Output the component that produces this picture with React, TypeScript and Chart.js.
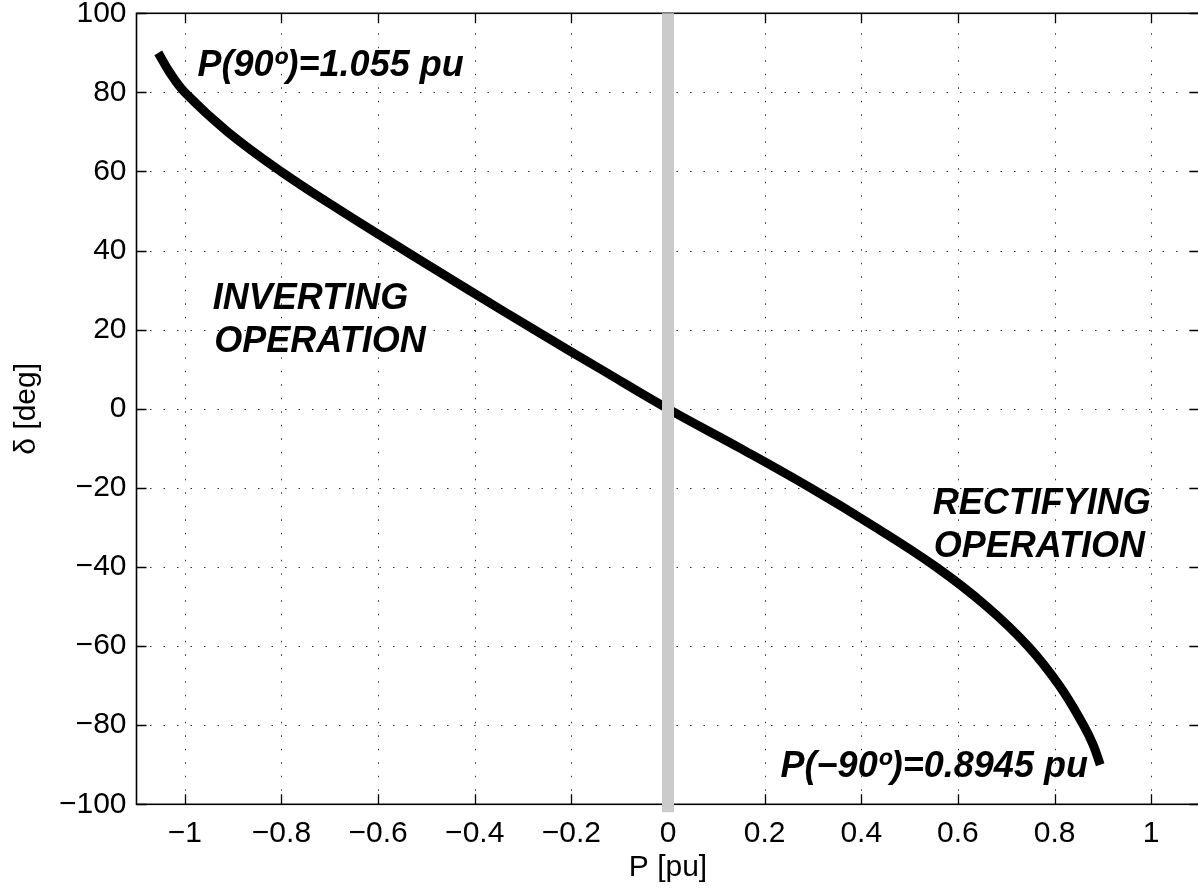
import React, { useEffect, useRef } from "react";
import { Chart, registerables } from "chart.js";

Chart.register(...registerables);

// Load angle δ (deg) versus active power P (pu) of the converter
const deltaDeg = [90, 85, 80, 70, 60, 50, 40, 30, 20, 10, 0, -10, -20, -30, -40, -50, -60, -70, -80, -85, -90];
const powerPu = [-1.055, -1.031, -1.0, -0.911, -0.801, -0.676, -0.545, -0.412, -0.277, -0.139, 0, 0.15, 0.295, 0.43, 0.555, 0.66, 0.745, 0.81, 0.86, 0.88, 0.8945];

// Grey reference line at P = 0
const zeroLineP = [0, 0];
const zeroLineDelta = [-102, 100];

// Axis ticks
const xTickValues = [-1, -0.8, -0.6, -0.4, -0.2, 0, 0.2, 0.4, 0.6, 0.8, 1];
const yTickValues = [-100, -80, -60, -40, -20, 0, 20, 40, 60, 80, 100];

// Text notes, anchored at (P, δ) of the left end of their baseline
const noteTexts = ["P(90º)=1.055 pu", "INVERTING", "OPERATION", "RECTIFYING", "OPERATION", "P(\u221290º)=0.8945 pu"];
const noteP = [-0.974, -0.942, -0.939, 0.548, 0.55, 0.233];
const noteDelta = [84.1, 25.3, 14.4, -26.7, -37.5, -93.1];

const FONT = "'Liberation Sans', Arial, Helvetica, sans-serif";

const fmt = (v: number) => {
  const r = Math.round(v * 10) / 10;
  if (r === 0) return "0";
  return (r < 0 ? "\u2212" : "") + String(Math.abs(r));
};

const framePlugin = {
  id: "matlabFrame",
  beforeDatasetsDraw(chart: any) {
    const { ctx, chartArea: a, scales } = chart;
    const xs = scales.x;
    const ys = scales.y;
    ctx.save();
    // dotted grid
    ctx.strokeStyle = "#333";
    ctx.lineWidth = 1;
    ctx.setLineDash([1.5, 12]);
    xTickValues.forEach((v) => {
      const px = Math.round(xs.getPixelForValue(v)) + 0.5;
      ctx.beginPath();
      ctx.moveTo(px, a.bottom);
      ctx.lineTo(px, a.top);
      ctx.stroke();
    });
    yTickValues.forEach((v) => {
      const py = Math.round(ys.getPixelForValue(v)) + 0.5;
      ctx.beginPath();
      ctx.moveTo(a.left, py);
      ctx.lineTo(a.right, py);
      ctx.stroke();
    });
    ctx.setLineDash([]);
    // box
    ctx.strokeStyle = "#000";
    ctx.lineWidth = 1.6;
    ctx.strokeRect(a.left, a.top, a.right - a.left, a.bottom - a.top);
    // inward tick marks on all four sides
    const tl = 10;
    ctx.lineWidth = 1.3;
    xTickValues.forEach((v) => {
      const px = Math.round(xs.getPixelForValue(v)) + 0.5;
      ctx.beginPath();
      ctx.moveTo(px, a.bottom);
      ctx.lineTo(px, a.bottom - tl);
      ctx.moveTo(px, a.top);
      ctx.lineTo(px, a.top + tl);
      ctx.stroke();
    });
    yTickValues.forEach((v) => {
      const py = Math.round(ys.getPixelForValue(v)) + 0.5;
      ctx.beginPath();
      ctx.moveTo(a.left, py);
      ctx.lineTo(a.left + tl, py);
      ctx.moveTo(a.right, py);
      ctx.lineTo(a.right - tl, py);
      ctx.stroke();
    });
    ctx.restore();
  },
  afterDatasetsDraw(chart: any) {
    const { ctx, scales } = chart;
    ctx.save();
    ctx.fillStyle = "#000";
    ctx.textAlign = "left";
    ctx.textBaseline = "alphabetic";
    ctx.font = `italic bold 36px ${FONT}`;
    noteTexts.forEach((t, i) => {
      ctx.fillText(t, scales.x.getPixelForValue(noteP[i]), scales.y.getPixelForValue(noteDelta[i]));
    });
    ctx.restore();
  },
};

export default function App() {
  const canvasRef = useRef<HTMLCanvasElement | null>(null);

  useEffect(() => {
    const canvas = canvasRef.current;
    if (!canvas) return;
    Chart.defaults.font.family = FONT;

    const chart = new Chart(canvas, {
      type: "scatter",
      data: {
        datasets: [
          {
            label: "P = 0",
            data: zeroLineP.map((p, i) => ({ x: p, y: zeroLineDelta[i] })),
            showLine: true,
            borderColor: "#cbcbcb",
            borderWidth: 12,
            borderCapStyle: "butt",
            pointRadius: 0,
            clip: false,
            order: 0,
          },
          {
            label: "δ(P)",
            data: powerPu.map((p, i) => ({ x: p, y: deltaDeg[i] })),
            showLine: true,
            borderColor: "#000",
            borderWidth: 9,
            borderCapStyle: "butt",
            borderJoinStyle: "round",
            tension: 0.4,
            pointRadius: 0,
            order: 1,
          },
        ],
      },
      options: {
        responsive: false,
        maintainAspectRatio: false,
        animation: false,
        events: [],
        layout: { padding: { top: 13.3, right: 4.5, bottom: 0, left: 0 } },
        plugins: {
          legend: { display: false },
          tooltip: { enabled: false },
          title: { display: false },
        },
        scales: {
          x: {
            type: "linear",
            min: -1.1,
            max: 1.1,
            grid: { display: false, drawTicks: false },
            border: { display: false },
            afterBuildTicks: (s: any) => {
              s.ticks = xTickValues.map((v) => ({ value: v }));
            },
            afterFit: (s: any) => {
              s.height = 83.7;
              s.paddingLeft = 0;
              s.paddingRight = 0;
            },
            ticks: {
              autoSkip: false,
              maxRotation: 0,
              padding: 11,
              color: "#000",
              font: { size: 30 },
              callback: (v: any) => fmt(Number(v)),
            },
            title: {
              display: true,
              text: "P [pu]",
              color: "#000",
              font: { size: 30 },
              padding: { top: 0, bottom: 2.5 },
            },
          },
          y: {
            type: "linear",
            min: -100,
            max: 100,
            grid: { display: false, drawTicks: false },
            border: { display: false },
            afterBuildTicks: (s: any) => {
              s.ticks = yTickValues.map((v) => ({ value: v }));
            },
            afterFit: (s: any) => {
              s.width = 136.5;
              s.paddingTop = 0;
              s.paddingBottom = 0;
            },
            ticks: {
              autoSkip: false,
              padding: 10,
              color: "#000",
              font: { size: 30 },
              callback: (v: any) => fmt(Number(v)),
            },
            title: {
              display: true,
              text: "δ [deg]",
              color: "#000",
              font: { size: 30 },
              padding: { top: 9, bottom: 0 },
            },
          },
        },
      } as any,
      plugins: [framePlugin],
    });

    return () => chart.destroy();
  }, []);

  return (
    <div
      style={{
        position: "fixed",
        left: 0,
        top: 0,
        width: 1198,
        height: 888,
        overflow: "hidden",
        background: "#fff",
      }}
    >
      <canvas ref={canvasRef} width={1204} height={888} style={{ display: "block" }} />
    </div>
  );
}
